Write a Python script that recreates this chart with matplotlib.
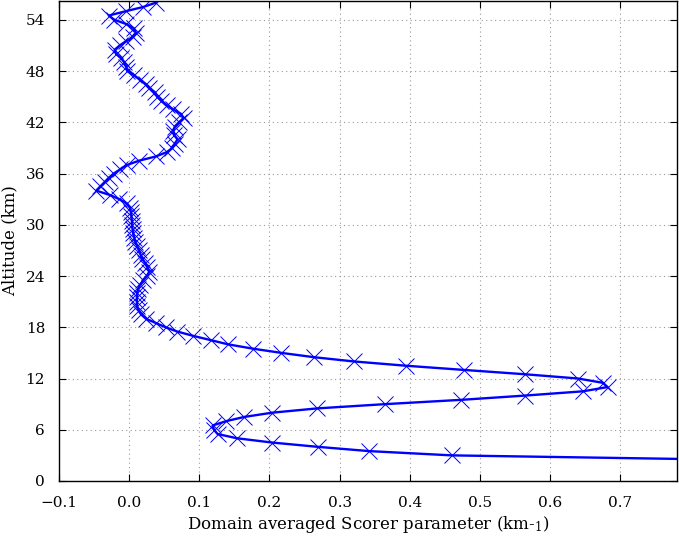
import matplotlib
matplotlib.use("Agg")
import matplotlib.pyplot as plt
import numpy as np

altitude_km = [
    2.5, 3.0, 3.5, 4.0, 4.5, 5.0, 5.5, 6.0, 6.5, 7.0, 7.5, 8.0, 8.5, 9.0, 9.5,
    10.0, 10.5, 11.0, 11.5, 12.0, 12.5, 13.0, 13.5, 14.0, 14.5, 15.0, 15.5,
    16.0, 16.5, 17.0, 17.5, 18.0, 18.5, 19.0, 19.5, 20.0, 20.5, 21.0, 21.5,
    22.0, 22.5, 23.0, 23.5, 24.0, 24.5, 25.0, 25.5, 26.0, 26.5, 27.0, 27.5,
    28.0, 28.5, 29.0, 29.5, 30.0, 30.5, 31.0, 31.5, 32.0, 32.5, 33.0, 33.5,
    34.0, 34.5, 35.0, 35.5, 36.0, 36.5, 37.0, 37.5, 38.0, 38.5, 39.0, 39.5,
    40.0, 40.5, 41.0, 41.5, 42.0, 42.5, 43.0, 43.5, 44.0, 44.5, 45.0, 45.5,
    46.0, 46.5, 47.0, 47.5, 48.0, 48.5, 49.0, 49.5, 50.0, 50.5, 51.0, 51.5,
    52.0, 52.5, 53.0, 53.5, 54.0, 54.5, 55.0, 55.5, 56.0,
]
scorer = [
    0.85, 0.460, 0.342, 0.269, 0.204, 0.154, 0.126, 0.121, 0.119, 0.138, 0.164,
    0.204, 0.268, 0.365, 0.473,
    0.564, 0.647, 0.682, 0.675, 0.640, 0.564, 0.478, 0.394, 0.320, 0.263,
    0.217, 0.176,
    0.141, 0.116, 0.091, 0.0685, 0.052, 0.038, 0.024, 0.017, 0.0134, 0.011,
    0.011, 0.011,
    0.0115, 0.0129, 0.0158, 0.020, 0.025, 0.0287, 0.026, 0.023, 0.019, 0.0163,
    0.0139, 0.0115,
    0.009, 0.0072, 0.0057, 0.0048, 0.0043, 0.0038, 0.0033, 0.0024, 0.001,
    -0.0033, -0.014, -0.028,
    -0.047, -0.041, -0.035, -0.029, -0.022, -0.0124, -0.003, 0.014, 0.038,
    0.0535, 0.0617, 0.065,
    0.069, 0.064, 0.063, 0.065, 0.071, 0.0775, 0.0736, 0.063, 0.0535, 0.046,
    0.040, 0.0368,
    0.0287, 0.0234, 0.0153, 0.0067, -0.0024, -0.0043, -0.0067, -0.011, -0.0186,
    -0.0206, -0.0134, -0.004,
    0.0057, 0.0096, 0.0067, -0.004, -0.021, -0.029, -0.005, 0.020, 0.038,
]

x_ticks = [-0.1, 0.0, 0.1, 0.2, 0.3, 0.4, 0.5, 0.6, 0.7]
x_tick_labels = ['\u22120.1', '0.0', '0.1', '0.2', '0.3', '0.4', '0.5', '0.6', '0.7']
y_ticks = [0, 6, 12, 18, 24, 30, 36, 42, 48, 54]

plt.rcParams['font.family'] = ['DejaVu Serif']
plt.rcParams['mathtext.fontset'] = 'dejavuserif'

fig = plt.figure(figsize=(6.79, 5.36), dpi=100)
ax = fig.add_axes([59 / 679, 55 / 536, 618 / 679, 480 / 536])

ax.plot(scorer, altitude_km, color='#0000ff', linewidth=1.7,
        marker='x', markersize=11.5, markeredgewidth=0.7, clip_on=True)

ax.set_xlim(-0.1, 0.781)
ax.set_ylim(0, 56.2)
ax.set_xticks(x_ticks)
ax.set_xticklabels(x_tick_labels)
ax.set_yticks(y_ticks)
ax.grid(True, linestyle=(0, (1, 3)), color='#999999', linewidth=0.8)
ax.tick_params(axis='both', direction='in', top=True, right=True,
               labelsize=11, length=5)
ax.tick_params(axis='x', pad=11)
ax.tick_params(axis='y', pad=10)
for s in ax.spines.values():
    s.set_linewidth(1.0)

ax.set_xlabel('Domain averaged Scorer parameter (km-$_{1}$)', fontsize=12, labelpad=3)
ax.set_ylabel('Altitude (km)', fontsize=12, labelpad=5)

fig.savefig('out.png', dpi=100)
